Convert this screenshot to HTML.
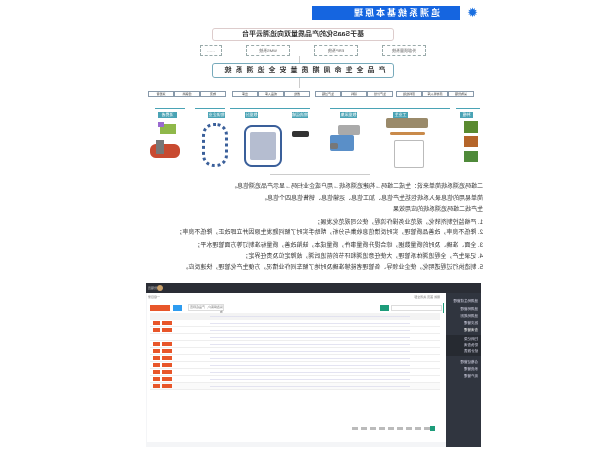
<!DOCTYPE html>
<html><head><meta charset="utf-8"><style>
*{margin:0;padding:0;box-sizing:border-box}
html,body{width:600px;height:450px;background:#fff;overflow:hidden}
#w{position:absolute;left:0;top:0;width:600px;height:450px;transform:scaleX(-1);font-family:"Liberation Sans","Noto Sans CJK SC",sans-serif;color:#333}
#w div{position:absolute}
.t{font-size:6px;white-space:nowrap;line-height:8px;color:#333}
.db{border:1px dashed #9aa;font-size:4px;text-align:center;line-height:9px;color:#555}
.tb{background:#4aa3b5;color:#fff;font-size:4px;text-align:center;line-height:6px}
.sb{border:1px solid #8899aa;font-size:3px;line-height:5px;text-align:center;color:#333;background:#fff}
.g{border-radius:2px}
.row{height:7px;left:160px;width:290px;border-bottom:1px solid #eee}
.ob{background:#e8562a;height:4px}
.ct{font-size:3px;color:#777;line-height:7px}
.sl{font-size:3.5px;color:#dde;left:119px;width:33px;text-align:left;padding-left:3px}
</style></head><body><div id="w">
<div style="left:122px;top:6px;width:13px;height:13px;color:#1a6fe0;font-size:13px;line-height:13px">✹</div>
<div style="left:140px;top:6px;width:148px;height:14px;background:#1565e0;color:#fff;font-size:9px;font-weight:bold;line-height:14px;padding-left:20px;letter-spacing:2px">追溯系统基本原理</div>
<div style="left:206px;top:28px;width:182px;height:13px;border:1px solid #dcc;border-radius:3px;font-size:7px;font-weight:bold;text-align:center;line-height:11px">基于SaaS化的产品质量双向追溯云平台</div>
<div class="db" style="left:174px;top:45px;width:44px;height:11px">外部质量系统</div>
<div class="db" style="left:242px;top:45px;width:44px;height:11px">ERP系统</div>
<div class="db" style="left:310px;top:45px;width:44px;height:11px">WMS系统</div>
<div class="db" style="left:378px;top:45px;width:22px;height:11px">……</div>
<div style="left:300px;top:56px;width:1px;height:7px;background:#ccc"></div>
<div style="left:206px;top:63px;width:182px;height:15px;border:1px solid #7ab;border-radius:3px;font-size:7px;font-weight:bold;text-align:center;line-height:13px;letter-spacing:4px">产品全生命周期质量安全追溯系统</div>
<div style="left:300px;top:78px;width:1px;height:10px;background:#ccc"></div>
<div class="sb" style="left:126px;top:91px;width:26px;height:6px">采购管理</div>
<div class="sb" style="left:152px;top:91px;width:26px;height:6px">原材料入库</div>
<div class="sb" style="left:178px;top:91px;width:26px;height:6px">原料检验</div>
<div class="sb" style="left:207px;top:91px;width:26px;height:6px">生产计划</div>
<div class="sb" style="left:233px;top:91px;width:26px;height:6px">领料</div>
<div class="sb" style="left:259px;top:91px;width:26px;height:6px">生产过程</div>
<div class="sb" style="left:290px;top:91px;width:26px;height:6px">质检</div>
<div class="sb" style="left:316px;top:91px;width:26px;height:6px">成品入库</div>
<div class="sb" style="left:342px;top:91px;width:26px;height:6px">出库</div>
<div class="sb" style="left:374px;top:91px;width:26px;height:6px">物流</div>
<div class="sb" style="left:400px;top:91px;width:26px;height:6px">经销商</div>
<div class="sb" style="left:426px;top:91px;width:26px;height:6px">消费者</div>
<div style="left:120px;top:108px;width:24px;height:1px;background:#4aa3b5"></div>
<div style="left:150px;top:108px;width:120px;height:1px;background:#4aa3b5"></div>
<div style="left:290px;top:108px;width:80px;height:1px;background:#4aa3b5"></div>
<div style="left:375px;top:108px;width:30px;height:1px;background:#4aa3b5"></div>
<div style="left:415px;top:108px;width:30px;height:1px;background:#4aa3b5"></div>
<div class="tb" style="left:127px;top:112px;width:13px;height:6px">种植</div>
<div class="tb" style="left:192px;top:112px;width:15px;height:6px">工业生产</div>
<div class="tb" style="left:243px;top:112px;width:17px;height:6px">数据采集</div>
<div class="tb" style="left:292px;top:112px;width:16px;height:6px">物流运输</div>
<div class="tb" style="left:342px;top:112px;width:13px;height:6px">数据分析</div>
<div class="tb" style="left:375px;top:112px;width:17px;height:6px">物流企业</div>
<div class="tb" style="left:423px;top:112px;width:19px;height:6px">消费者</div>
<div style="left:122px;top:121px;width:14px;height:12px;background:#5a8a30"></div>
<div style="left:122px;top:136px;width:14px;height:11px;background:#b5652a"></div>
<div style="left:122px;top:151px;width:14px;height:11px;background:#4f8a3a"></div>
<div class="g" style="left:172px;top:118px;width:42px;height:10px;background:#9a8a6a"></div>
<div class="g" style="left:175px;top:132px;width:35px;height:3px;background:#c98a4a"></div>
<div class="g" style="left:176px;top:140px;width:30px;height:28px;border:1px solid #bbb"></div>
<div class="g" style="left:240px;top:125px;width:22px;height:10px;background:#aaa"></div>
<div class="g" style="left:246px;top:135px;width:24px;height:16px;background:#5a8fc8"></div>
<div class="g" style="left:262px;top:143px;width:8px;height:6px;background:#777"></div>
<div class="g" style="left:291px;top:131px;width:17px;height:6px;background:#333"></div>
<div class="g" style="left:318px;top:125px;width:38px;height:42px;border:2px solid #3a5f9a;border-radius:8px"></div>
<div class="g" style="left:324px;top:132px;width:26px;height:28px;background:#b5bdd0"></div>
<div class="g" style="left:372px;top:123px;width:26px;height:44px;border:3px dotted #3a5f9a;border-radius:12px"></div>
<div style="left:424px;top:124px;width:16px;height:10px;background:#8fb84a"></div>
<div style="left:436px;top:122px;width:6px;height:5px;background:#9a6ad0"></div>
<div style="left:420px;top:144px;width:30px;height:14px;background:#c84a30;border-radius:6px"></div>
<div style="left:436px;top:140px;width:8px;height:14px;background:#777"></div>
<div style="left:230px;top:174px;width:100px;height:1px;background:#ccc"></div>
<div class="t" style="left:117px;top:183px">二维码追溯系统简单来说：生成二维码→构建追溯系统→用户或企业扫码→显示产品追溯信息。</div>
<div class="t" style="left:117px;top:195px">简单易用的信息录入系统包括生产信息、加工信息、运输信息、销售信息四个信息。</div>
<div class="t" style="left:117px;top:206px">生产线二维码追溯系统的应用效果</div>
<div class="t" style="left:117px;top:219px">1. 严格监控制剂转化，规范业务操作流程，使公司规范化发展；</div>
<div class="t" style="left:117px;top:229px">2. 降低不良率，改善品质管理，实时反馈信息收集与分析，帮助手实时了解问题发生原因并立即改正，降低不良率；</div>
<div class="t" style="left:117px;top:242px">3. 全面、准确、及时的质量数据，综合提升质量事件，质量成本，缺陷改善，质量标准制订等方面管理水平；</div>
<div class="t" style="left:117px;top:253px">4. 记录生产，全程追溯体系管理，大使任意追溯和环节的前追后溯，故障定位及责任界定；</div>
<div class="t" style="left:117px;top:264px">5. 制造执行过程透明化，使企业领导、各管理者能够准确及时地了解车间作业情况，方便生产化管理，快速反应。</div>
<div style="left:119px;top:283px;width:335px;height:164px;background:#f4f5f7"></div>
<div style="left:119px;top:283px;width:335px;height:10px;background:#2a2d35"></div>
<div style="left:119px;top:293px;width:35px;height:154px;background:#30353f"></div>
<div style="left:119px;top:335px;width:35px;height:21px;background:#262a31"></div>
<div class="sl" style="top:299px">追溯码生成管理</div>
<div class="sl" style="top:307px">追溯码管理</div>
<div class="sl" style="top:314px">追溯码规则</div>
<div class="sl" style="top:321px">批次管理</div>
<div class="sl" style="top:328px;color:#fff">查询管理</div>
<div class="sl" style="top:337px">扫码记录</div>
<div class="sl" style="top:343px">防伪查询</div>
<div class="sl" style="top:349px">统计报表</div>
<div class="sl" style="top:360px">合格证管理</div>
<div class="sl" style="top:367px">系统管理</div>
<div class="sl" style="top:374px">用户管理</div>
<div style="left:154px;top:293px;width:299px;height:149px;background:#fff"></div>
<div style="left:437px;top:285px;width:6px;height:6px;border-radius:3px;background:#c9a06a"></div>
<div class="ct" style="left:443px;top:285px;color:#ccc">管理员</div>
<div class="ct" style="left:440px;top:294px">一级目录</div>
<div class="ct" style="left:160px;top:294px">刷新 首页 关闭全部</div>
<div style="left:430px;top:305px;width:20px;height:6px;background:#e8562a"></div>
<div style="left:418px;top:305px;width:9px;height:6px;background:#2d9cf0"></div>
<div class="ct" style="left:376px;top:304px;width:36px;height:7px;border:1px solid #ddd;line-height:5px">请选择客户、产品名称查询</div>
<div style="left:211px;top:305px;width:9px;height:6px;background:#1d9c7a"></div>
<div style="left:158px;top:305px;width:51px;height:6px;border:1px solid #ddd"></div>
<div style="left:156px;top:303px;width:1px;height:10px;background:#1d9c7a"></div>
<div style="left:160px;top:313px;width:290px;height:7px;background:#f3f3f3"></div>
<div class="row" style="top:320px"></div><div class="row" style="top:327px"></div><div class="row" style="top:334px"></div><div class="row" style="top:341px"></div><div class="row" style="top:348px"></div><div class="row" style="top:355px"></div><div class="row" style="top:362px"></div><div class="row" style="top:369px"></div><div class="row" style="top:376px"></div><div class="row" style="top:383px;background:#fafafa"></div>
<div style="left:190px;top:314px;width:200px;height:74px;background:repeating-linear-gradient(180deg,transparent 0 2px,#dde 2px 3px,transparent 3px 7px);opacity:.8"></div>
<div class="ob" style="left:440px;top:321px;width:7px"></div><div class="ob" style="left:428px;top:321px;width:10px"></div>
<div class="ob" style="left:440px;top:328px;width:7px"></div><div class="ob" style="left:428px;top:328px;width:10px"></div>
<div class="ob" style="left:440px;top:342px;width:7px"></div><div class="ob" style="left:428px;top:342px;width:10px"></div>
<div class="ob" style="left:440px;top:349px;width:7px"></div><div class="ob" style="left:428px;top:349px;width:10px"></div>
<div class="ob" style="left:440px;top:356px;width:7px"></div><div class="ob" style="left:428px;top:356px;width:10px"></div>
<div class="ob" style="left:440px;top:363px;width:7px"></div><div class="ob" style="left:428px;top:363px;width:10px"></div>
<div class="ob" style="left:440px;top:370px;width:7px"></div><div class="ob" style="left:428px;top:370px;width:10px"></div>
<div class="ob" style="left:440px;top:377px;width:7px"></div><div class="ob" style="left:428px;top:377px;width:10px"></div>
<div class="ob" style="left:440px;top:384px;width:7px"></div><div class="ob" style="left:428px;top:384px;width:10px"></div>
<div style="left:170px;top:427px;width:80px;height:3px;background:repeating-linear-gradient(90deg,#bbb 0 6px,transparent 6px 9px)"></div>
<div style="left:165px;top:426px;width:5px;height:5px;background:#1d9c7a"></div>
</div></body></html>
